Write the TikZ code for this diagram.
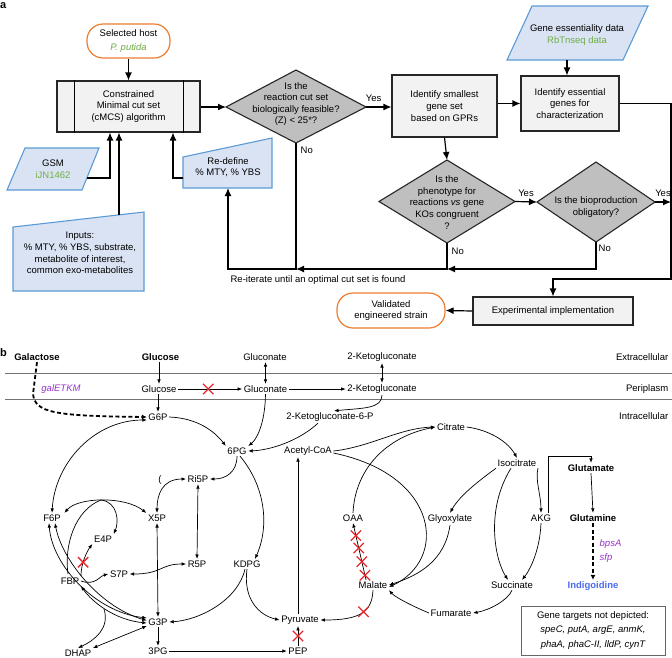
\documentclass[tikz,border=0pt]{standalone}
\usepackage{fontspec}
\setmainfont{Liberation Sans}
\usetikzlibrary{arrows.meta,shapes.misc,calc}
\definecolor{orng}{HTML}{ED7D31}
\definecolor{grn}{HTML}{70AD47}
\definecolor{bluefill}{HTML}{DAE3F3}
\definecolor{bluebd}{HTML}{5B9BD5}
\definecolor{purp}{HTML}{9933CC}
\definecolor{indblue}{HTML}{4A6CF0}
\definecolor{kored}{HTML}{E8282C}
\newcommand\fsz{\fontsize{9.5}{11.6}\selectfont}
\begin{document}
\begin{tikzpicture}[x=1pt,y=-1pt,font=\fsz,
  every node/.style={inner sep=1.5pt},
  term/.style={draw=orng, line width=1.2pt, rounded corners=16pt, fill=white, align=center},
  proc/.style={draw=black!85, line width=1.1pt, fill=black!5, align=center},
  inp/.style={draw=bluebd, line width=1.1pt, fill=bluefill},
  dia/.style={draw=black!85, line width=1.1pt, fill=black!25},
  aline/.style={line width=1.2pt, draw=black},
  aarr/.style={aline, -{Latex[length=8pt,width=7pt]}},
  bline/.style={line width=0.7pt},
  barr/.style={bline, -{Latex[length=4.5pt,width=3.6pt]}},
  bdarr/.style={bline, {Latex[length=4.5pt,width=3.6pt]}-{Latex[length=4.5pt,width=3.6pt]}},
  dasharr/.style={line width=1.8pt, dash pattern=on 4pt off 2.5pt, -{Latex[length=5pt,width=5pt]}},
  ko/.style={cross out, draw=kored, line width=1.3pt, minimum size=9pt, inner sep=0pt},
  memb/.style={line width=0.9pt, draw=black!55},
  lbl/.style={align=center}]
\useasboundingbox (0,0) rectangle (672,657);

% ================= panel a =================
\node[font=\fontsize{11}{11}\selectfont\bfseries, anchor=west, inner sep=0pt] (la) at (0,6) {a};

\node[term, minimum width=83, minimum height=34] (host) at (128.5,41) {Selected host\\[1.5pt]\textcolor{grn}{\itshape P. putida}};

\node[proc, minimum width=143, minimum height=51] (cmcs) at (128.5,106.5) {Constrained\\Minimal cut set\\(cMCS) algorithm};
\draw[aline] ([xshift=18pt]cmcs.north west) -- ([xshift=18pt]cmcs.south west);
\draw[aline] ([xshift=-17pt]cmcs.north east) -- ([xshift=-17pt]cmcs.south east);

% diamond 1
\coordinate (d1n) at (296,70); \coordinate (d1e) at (366,107);
\coordinate (d1s) at (296,143); \coordinate (d1w) at (226,107);
\draw[dia] (d1n) -- (d1e) -- (d1s) -- (d1w) -- cycle;
\node[lbl] (d1) at (296,104) {Is the\\reaction cut set\\biologically feasible?\\(Z) < 25*?};

\node[proc, minimum width=105, minimum height=62] (gset) at (444.5,106) {Identify smallest\\gene set\\based on GPRs};
\node[proc, minimum width=98, minimum height=55] (ess) at (570,103.5) {Identify essential\\genes for\\characterization};

% gene essentiality data
\draw[inp] (532,6) -- (648,6) -- (623,60) -- (507,60) -- cycle;
\node[lbl] (gedata) at (577,35) {Gene essentiality data\\\textcolor{grn}{RbTnseq data}};
\coordinate (gebot) at (567,60);

% GSM
\draw[inp] (25,148) -- (99,148) -- (82,190) -- (7,190) -- cycle;
\node[lbl] (gsm) at (53,169) {GSM\\\textcolor{grn}{iJN1462}};
\coordinate (gsmr) at (87,178);

% Re-define
\draw[inp] (183,157) -- (272,138) -- (272,188) -- (183,188) -- cycle;
\node[lbl] (redef) at (228,167) {Re-define\\\% MTY, \% YBS};
\coordinate (rdl) at (183,178);
\coordinate (rdb) at (228,188);

% Inputs
\draw[inp] (13,227) -- (144,212) -- (144,291) -- (13,291) -- cycle;
\node[lbl] (inputs) at (80,253) {Inputs:\\\% MTY, \% YBS, substrate,\\metabolite of interest,\\common exo-metabolites};
\coordinate (inpt) at (119,215);

% diamond 2
\coordinate (d2n) at (447,160); \coordinate (d2e) at (515,201.5);
\coordinate (d2s) at (447,243); \coordinate (d2w) at (379,201.5);
\draw[dia] (d2n) -- (d2e) -- (d2s) -- (d2w) -- cycle;
\node[lbl] (d2) at (447,202.5) {Is the\\phenotype for\\reactions \textit{vs} gene\\KOs congruent\\?};

% diamond 3
\coordinate (d3n) at (596,162); \coordinate (d3e) at (655,202);
\coordinate (d3s) at (596,242); \coordinate (d3w) at (537,202);
\draw[dia] (d3n) -- (d3e) -- (d3s) -- (d3w) -- cycle;
\node[lbl] (d3) at (596,207) {Is the bioproduction\\obligatory?};

\node[proc, minimum width=160, minimum height=28] (exp) at (553,311) {Experimental implementation};
\node[term, minimum width=108, minimum height=35] (val) at (391,310.5) {Validated\\engineered strain};

\coordinate (j2) at (447,269); \coordinate (j1) at (296,269); \coordinate (j0) at (228,269);
\coordinate (rr) at (671,279); \coordinate (yr) at (671,202);

% arrows a
\draw[aarr] (host.south) -- (host.south |- cmcs.north);
\draw[aarr] (cmcs.east |- d1w) -- (d1w);
\draw[aarr] (d1e) -- (gset.west |- d1e) node[pos=0.3, above=3pt] (yes1) {Yes};
\draw[aarr] (ess.west -| gset.east) -- (ess.west);
\draw[aarr] (gebot) -- (gebot |- ess.north);
\draw[aarr] (ess.east) -| (rr) -| (exp.north);
\draw[aarr] (gset.south) -- (d2n);
\draw[aarr] (d2e) -- (d3w) node[midway, above=3pt] (yes2) {Yes};
\draw[aarr] (d3e) -- (yr) node[midway, above=3pt] (yes3) {Yes};
\draw[aarr] (d3s) |- (j2);
\draw[aarr] (d2s) |- (j1);
\draw[aarr] (d1s) -- (j1) -- (j0) -- (rdb);
\node[anchor=west] (no1) at (299,150) {No};
\node[anchor=west] (no2) at (450,251) {No};
\node[anchor=west] (no3) at (597,248) {No};
\node (reit) at (318,280) {Re-iterate until an optimal cut set is found};
\draw[aarr] (rdl) -| ([xshift=44.5pt]cmcs.south);
\draw[aarr] (gsmr) -| ([xshift=-18.5pt]cmcs.south);
\draw[aarr] (inpt) -- (inpt |- cmcs.south);
\draw[aarr] (exp.west) -- (val.east);

% ================= panel b =================
\node[font=\fontsize{11}{11}\selectfont\bfseries, anchor=west, inner sep=0pt] (lb) at (0,353) {b};
\draw[memb] (5,373) -- (672,373);
\draw[memb] (5,399) -- (672,399);

\node (gal) at (37,357) {\bfseries Galactose};
\node (glcE) at (160.5,357) {\bfseries Glucose};
\node (glcnE) at (265,357) {Gluconate};
\node (kgE) at (382,357) {2-Ketogluconate};
\node[anchor=east] (extra) at (670,357) {Extracellular};
\node (galg) at (61,389) {\textcolor{purp}{\itshape galETKM}};
\node (glcP) at (159,389) {Glucose};
\node (glcnP) at (265.5,389) {Gluconate};
\node (kgP) at (382,389) {2-Ketogluconate};
\node[anchor=east] (peri) at (670,389) {Periplasm};
\node (g6p) at (158,417) {G6P};
\node (kg6p) at (330,417) {2-Ketogluconate-6-P};
\node[anchor=east] (intra) at (670,416) {Intracellular};
\node (cit) at (451,427) {Citrate};
\node (pg6) at (237,451) {6PG};
\node (acoa) at (308,451) {Acetyl-CoA};
\node (ri5p) at (198,479) {Ri5P};
\node (paren) at (160,480) {(};
\node (x5p) at (157,518) {X5P};
\node (f6p) at (52,518) {F6P};
\node (e4p) at (103,539) {E4P};
\node (r5p) at (197,564) {R5P};
\node (kdpg) at (247,564) {KDPG};
\node (s7p) at (119,574) {S7P};
\node (fbp) at (70,581) {FBP};
\node (g3p) at (158,622) {G3P};
\node (pyr) at (300,620) {Pyruvate};
\node (dhap) at (78,653) {DHAP};
\node (pg3) at (158,651) {3PG};
\node (pep) at (298,651) {PEP};
\node (icit) at (517,463) {Isocitrate};
\node (glu) at (591,468) {\bfseries Glutamate};
\node (oaa) at (353,518) {OAA};
\node (glx) at (450,519) {Glyoxylate};
\node (akg) at (541,518) {AKG};
\node (gln) at (593,518) {\bfseries Glutamine};
\node[anchor=west] (bpsa) at (598,544) {\textcolor{purp}{\itshape bpsA}};
\node[anchor=west] (sfp) at (598,558) {\textcolor{purp}{\itshape sfp}};
\node (mal) at (373,585) {Malate};
\node (suc) at (512,585) {Succinate};
\node (ind) at (593,586) {\bfseries\textcolor{indblue}{Indigoidine}};
\node (fum) at (451,613) {Fumarate};
\node[draw=black!60, line width=1pt, minimum width=144, minimum height=49, align=center] (gt) at (593,630.5)
  {Gene targets not depicted:\\[2.5pt]\itshape speC, putA, argE, anmK,\\[2.5pt]\itshape phaA, phaC-II, lldP, cynT};

% arrows b
\draw[barr] (glcP.north |- glcE.south) -- (glcP.north);
\draw[barr] (glcP.south -| g6p.north) -- (g6p.north);
\draw[barr] (glcP.east) -- (glcnP.west) node[ko, pos=0.47] (x1) {};
\draw[bdarr] (glcnP.north |- glcnE.south) -- (glcnP.north);
\draw[barr] (glcnP.east) -- (kgP.west);
\draw[bdarr] (kgP.north |- kgE.south) -- (kgP.north);
\draw[barr] (kgP.south) .. controls (382,409) and (362,408) .. ([xshift=4pt]kg6p.north);
\draw[dasharr] (gal.south) -- (33,394) .. controls (35,413) and (55,416) .. (g6p.west);
\draw[barr] (g6p.east) .. controls (198,418) and (215,432) .. (pg6.north west);
\draw[barr] (glcnP.south) .. controls (265,425) and (256,440) .. (pg6.north east);
\draw[barr] ([xshift=-12pt]kg6p.south) .. controls (300,440) and (272,450) .. (pg6.east);
\draw[barr] (pg6.south) .. controls (237,472) and (226,479) .. (ri5p.east);
\draw[barr] ([xshift=3pt]pg6.south) .. controls (268,490) and (268,530) .. ([xshift=8pt]kdpg.north);
\draw[bdarr] (f6p.north) .. controls (55,462) and (95,420) .. ([yshift=-3pt]g6p.west);
\draw[bdarr] (ri5p.west) .. controls (162,479) and (157,495) .. (x5p.north);
\draw[bdarr] (ri5p.south) -- (r5p.north);
\draw[bdarr] (r5p.west) .. controls (160,564) and (162,574) .. (s7p.east);
\draw[bdarr] (x5p.south) -- (g3p.north);
\draw[bdarr] ([xshift=2pt]f6p.north east) .. controls (78,497) and (125,496) .. (x5p.north west);
\coordinate (tk) at (101,500);
\draw[barr] (tk) .. controls (118,502) and (119,522) .. (e4p.north east);
\draw[bline] (tk) .. controls (75,510) and (64,545) .. (68,574);
\draw[barr] (fbp.north east) .. controls (81,562) and (88,550) .. (e4p.south west) node[ko, pos=0.35] (x2) {};
\draw[barr] (fbp.east) .. controls (95,586) and (100,576) .. (s7p.west);
\draw[bdarr] ([xshift=-3pt]f6p.south) .. controls (52,565) and (95,612) .. ([yshift=4pt]g3p.west);
\draw[bdarr] ([xshift=3pt]f6p.south) .. controls (62,560) and (100,607) .. ([yshift=1.5pt]g3p.west);
\draw[bdarr] (fbp.south east) .. controls (92,602) and (115,620) .. ([yshift=-1pt]g3p.west);
\draw[bdarr] (dhap.north east) -- ([yshift=-4pt]g3p.west);
\coordinate (ald) at (104,609);
\draw[barr] (ald) .. controls (110,628) and (95,640) .. (dhap.north);
\draw[barr] (g3p.south) -- (pg3.north);
\draw[barr] (pg3.east) -- (pep.west);
\draw[barr] (pep.north) -- (pep.north |- pyr.south) node[ko, midway] (x3) {};
\draw[barr] (pep.north |- pyr.north) -- (pep.north |- acoa.south);
\draw[barr] (kdpg.south) .. controls (243,598) and (258,615) .. (pyr.west);
\draw[barr] ([xshift=-2pt]kdpg.south) .. controls (238,600) and (200,620) .. (g3p.east);
\draw[barr] (mal.south) .. controls (372,612) and (360,620) .. (pyr.east) node[ko, pos=0.45] (x4) {};
\draw[barr] (acoa.east) .. controls (370,447) and (400,428) .. (cit.west);
\draw[barr] (oaa.north) .. controls (355,470) and (385,437) .. (cit.west);
\draw[barr] ([yshift=-2pt]acoa.east) .. controls (440,475) and (448,560) .. ([yshift=-2pt]mal.east);
\draw[barr] (glx.south) .. controls (445,560) and (420,575) .. (mal.east);
\draw[barr] (icit.south west) .. controls (480,480) and (460,495) .. (glx.north);
\draw[barr] ([xshift=-6pt]icit.south) .. controls (485,510) and (495,560) .. ([xshift=-4pt]suc.north);
\draw[barr] (icit.south east) .. controls (535,480) and (541,495) .. (akg.north);
\draw[barr] (akg.south) .. controls (540,550) and (530,570) .. ([xshift=10pt]suc.north);
\draw[barr] (cit.east) .. controls (490,430) and (508,442) .. (icit.north);
\draw[barr] ([xshift=-4pt]akg.north east) |- ([yshift=6pt]glu.north) -- (glu.north);
\draw[barr] (glu.south) -- (gln.north);
\draw[dasharr] (gln.south) -- (ind.north);
\draw[barr] (suc.south) .. controls (508,600) and (490,610) .. (fum.east);
\draw[barr] (fum.west) .. controls (410,605) and (395,597) .. (mal.south east);
\draw[barr] ([xshift=-7pt]mal.north) -- (oaa.south)
  node[ko, pos=0.08] (x5) {} node[ko, pos=0.32] (x6) {}
  node[ko, pos=0.56] (x7) {} node[ko, pos=0.78] (x8) {};
\end{tikzpicture}
\end{document}
